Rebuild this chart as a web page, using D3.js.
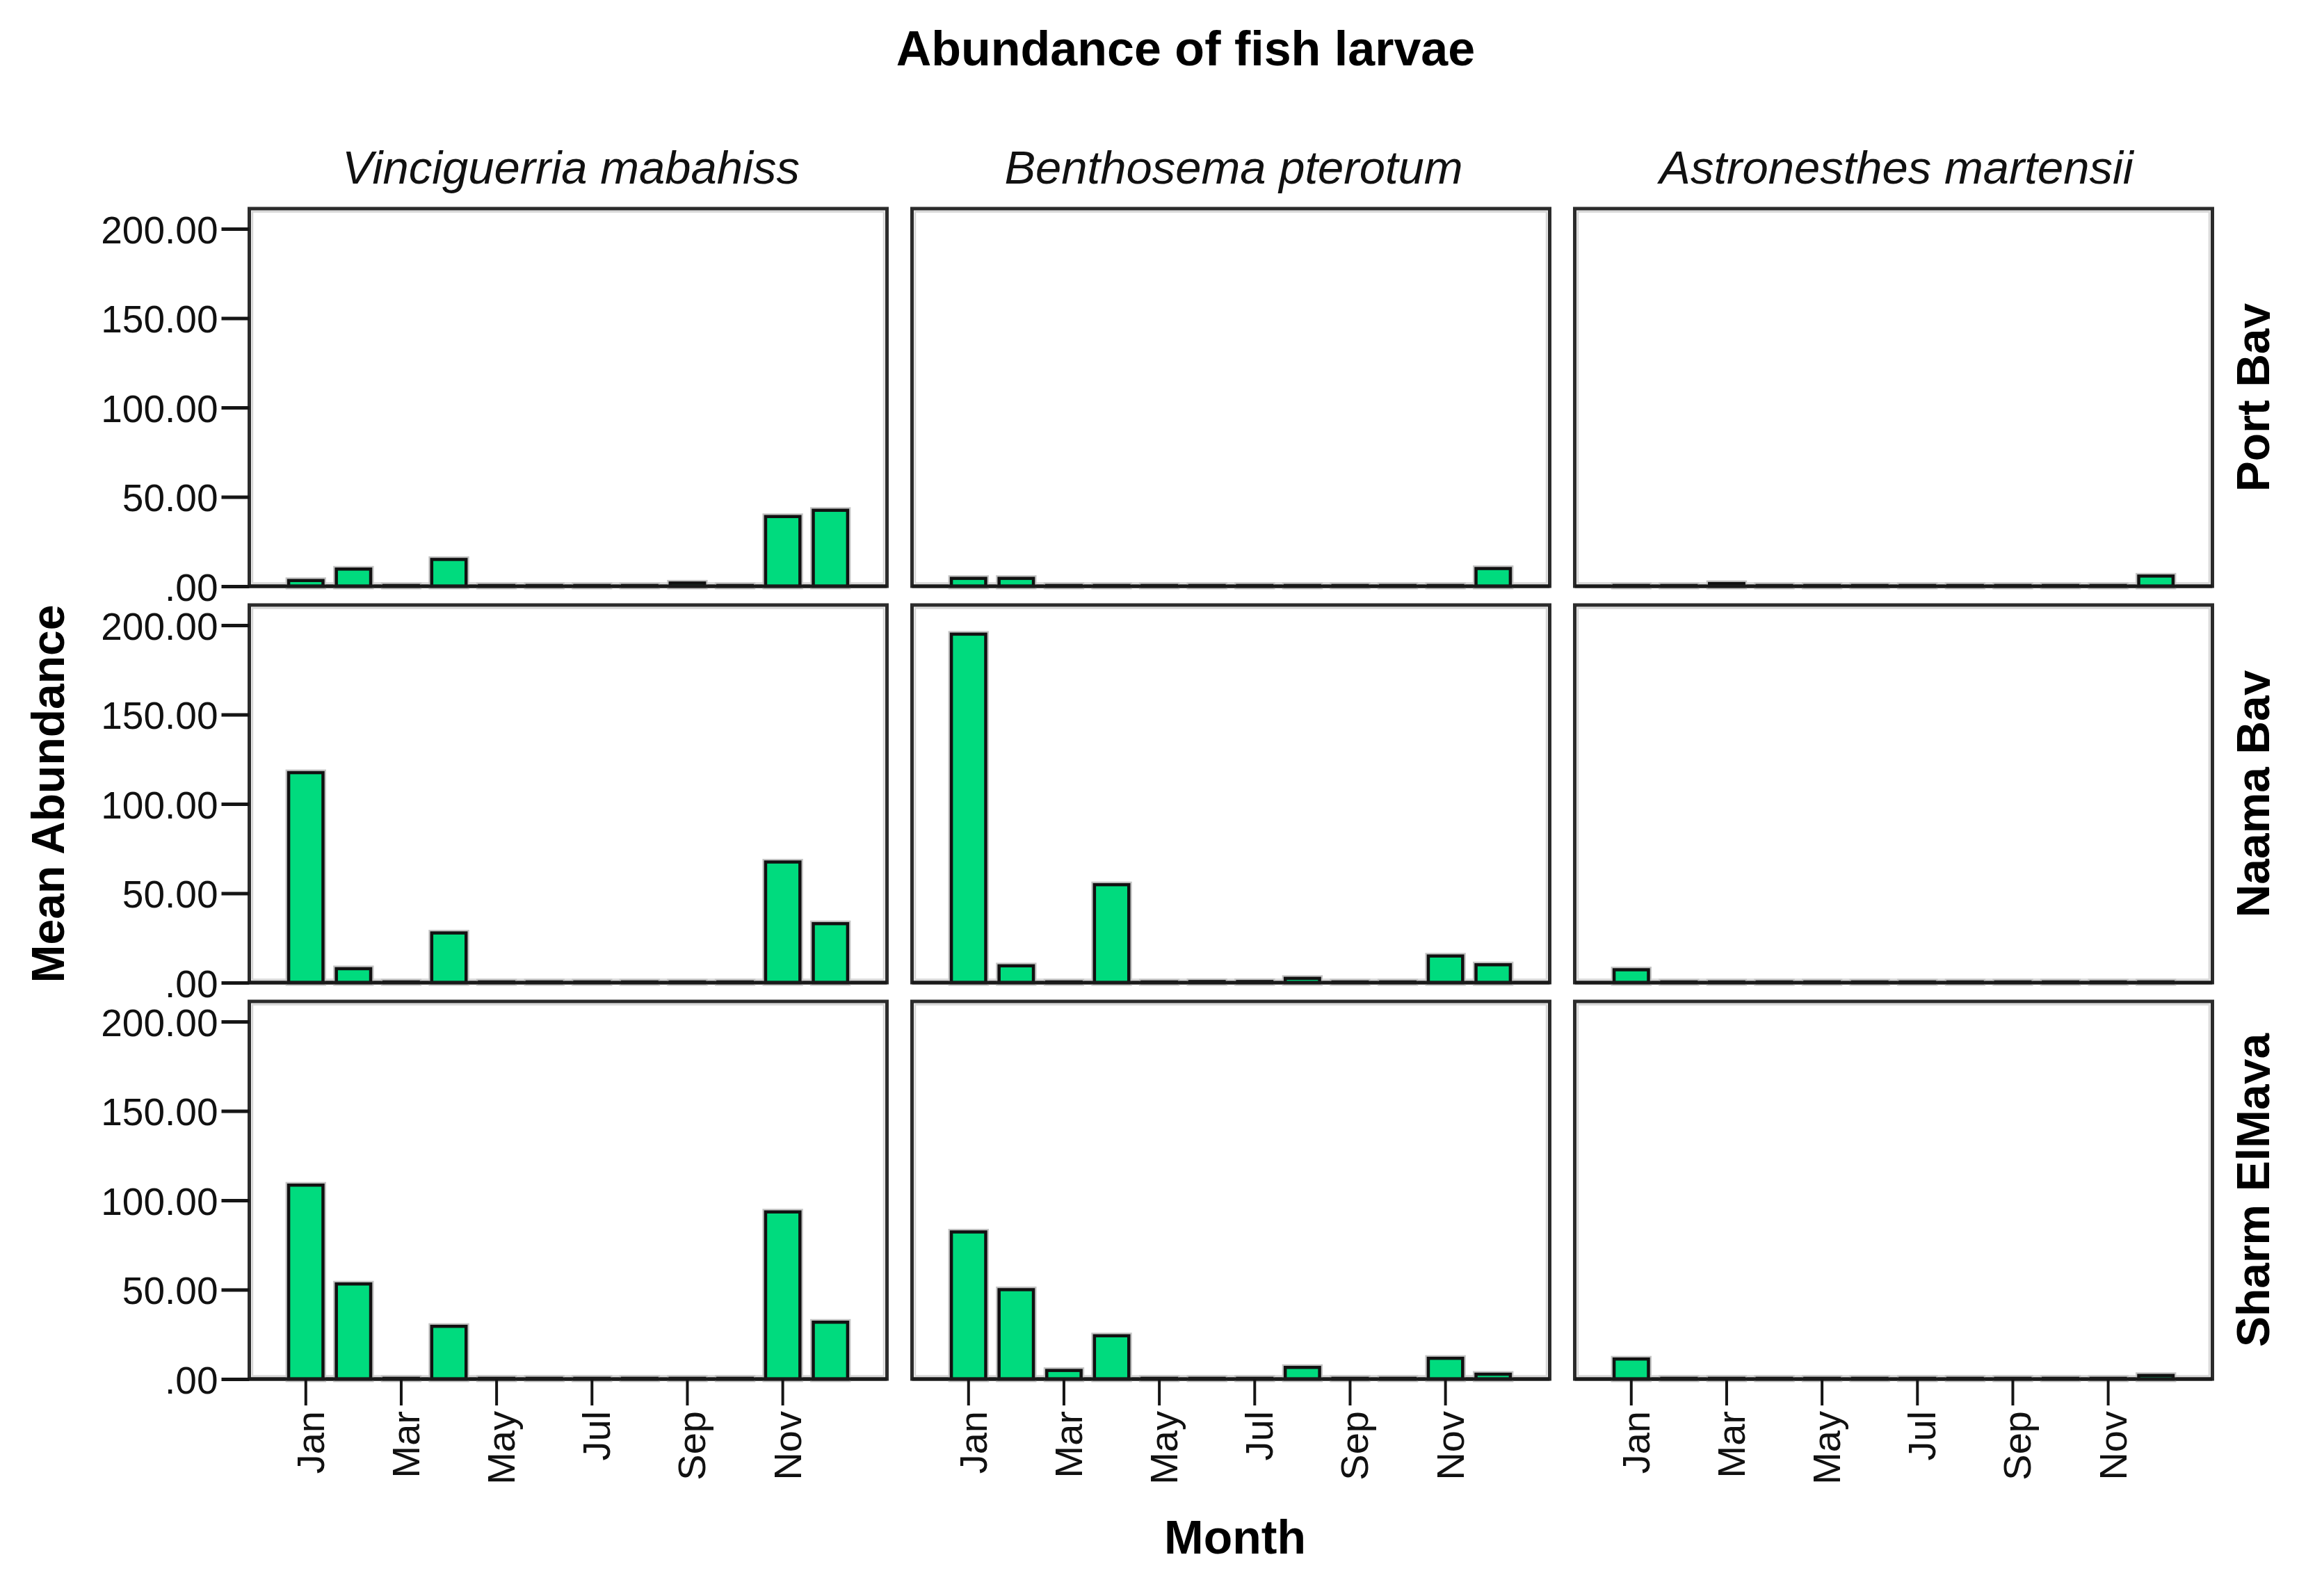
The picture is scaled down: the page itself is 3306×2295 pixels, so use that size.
<!DOCTYPE html>
<html>
<head>
<meta charset="utf-8">
<script src="https://cdn.jsdelivr.net/npm/d3@7"></script>
<style>
  html, body { margin: 0; padding: 0; background: #fff; }
  svg { display: block; }
  text { font-family: "Liberation Sans", Arial, sans-serif; }
</style>
</head>
<body>
<svg id="chart" width="3306" height="2295"></svg>
<script>
// ---------------- data ----------------
const months = ["Jan","Feb","Mar","Apr","May","Jun","Jul","Aug","Sep","Oct","Nov","Dec"];
const monthTickLabels = ["Jan","Mar","May","Jul","Sep","Nov"];
const species = ["Vinciguerria mabahiss","Benthosema pterotum","Astronesthes martensii"];
const sites = ["Port Bay","Naama Bay","Sharm ElMaya"];
const yTicks = [0, 50, 100, 150, 200];
const yTickLabels = [".00", "50.00", "100.00", "150.00", "200.00"];

// Mean abundance per month (Jan..Dec)
const vinciguerriaPortBay   = [3.2, 9.6, 0, 15.0, 0, 0, 0, 0, 1.8, 0, 39.0, 42.5];
const vinciguerriaNaamaBay  = [117.5, 7.8, 0, 27.8, 0, 0, 0, 0, 0, 0, 67.5, 33.0];
const vinciguerriaSharm     = [108.5, 53.2, 0, 29.5, 0, 0, 0, 0, 0, 0, 93.5, 31.8];
const benthosemaPortBay     = [4.4, 4.4, 0, 0, 0, 0, 0, 0, 0, 0, 0, 9.9];
const benthosemaNaamaBay    = [195.0, 9.4, 0, 54.8, 0, 0.6, 0.6, 2.4, 0, 0, 14.9, 10.0];
const benthosemaSharm       = [82.3, 50.0, 4.8, 24.2, 0, 0, 0, 6.5, 0, 0, 11.6, 2.7];
const astronesthesPortBay   = [0.4, 0, 1.5, 0, 0, 0, 0, 0, 0, 0, 0, 5.7];
const astronesthesNaamaBay  = [7.2, 0, 0, 0, 0, 0, 0, 0, 0, 0, 0, 0.4];
const astronesthesSharm     = [11.2, 0, 0, 0, 0, 0, 0, 0, 0, 0, 0, 2.0];

const panelData = {
  "Vinciguerria mabahiss":  {"Port Bay": vinciguerriaPortBay, "Naama Bay": vinciguerriaNaamaBay, "Sharm ElMaya": vinciguerriaSharm},
  "Benthosema pterotum":    {"Port Bay": benthosemaPortBay,   "Naama Bay": benthosemaNaamaBay,   "Sharm ElMaya": benthosemaSharm},
  "Astronesthes martensii": {"Port Bay": astronesthesPortBay, "Naama Bay": astronesthesNaamaBay, "Sharm ElMaya": astronesthesSharm}
};

// ---------------- layout ----------------
const svg = d3.select("#chart");
const GREEN = "#00DB7E";

const colScale = d3.scaleBand().domain(species).range([358.5, 3181.5]).paddingInner(0.0378);
const rowScale = d3.scaleBand().domain(sites).range([300, 1983]).paddingInner(0.0474);
const pw = colScale.bandwidth();
const ph = rowScale.bandwidth();

const y = d3.scaleLinear().domain([0, 211.3]).range([ph, 0]);
const x = d3.scaleBand().domain(months).range([0, pw]).paddingInner(0.28).paddingOuter(0.825);

// clip for row labels (descenders cut as in the source)
const defs = svg.append("defs");
defs.append("clipPath").attr("id", "rowclip")
  .append("rect").attr("x", 3180).attr("y", 0).attr("width", 84).attr("height", 2295);

// Title
svg.append("text")
  .attr("x", 1705).attr("y", 94)
  .attr("text-anchor", "middle")
  .attr("font-size", 70).attr("font-weight", "bold")
  .attr("fill", "#000")
  .text("Abundance of fish larvae");

// Column headers
svg.selectAll("text.colhead").data(species).join("text")
  .attr("class", "colhead")
  .attr("x", d => colScale(d) + pw / 2 + 4)
  .attr("y", 264)
  .attr("text-anchor", "middle")
  .attr("font-size", 67).attr("font-style", "italic")
  .attr("fill", "#111")
  .text(d => d);

// Row labels
svg.append("g").attr("clip-path", "url(#rowclip)")
  .selectAll("text").data(sites).join("text")
  .attr("transform", d => `translate(3263,${rowScale(d) + ph / 2}) rotate(-90)`)
  .attr("text-anchor", "middle")
  .attr("font-size", 66).attr("font-weight", "bold")
  .attr("fill", "#000")
  .text(d => d);

// Y axis title
svg.append("text")
  .attr("transform", `translate(92,${(rowScale.range()[0] + rowScale.range()[1]) / 2}) rotate(-90)`)
  .attr("text-anchor", "middle")
  .attr("font-size", 66).attr("font-weight", "bold")
  .attr("fill", "#000")
  .text("Mean Abundance");

// X axis title
svg.append("text")
  .attr("x", 1776).attr("y", 2234)
  .attr("text-anchor", "middle")
  .attr("font-size", 68).attr("font-weight", "bold")
  .attr("fill", "#000")
  .text("Month");

// Panels
species.forEach((sp, ci) => {
  sites.forEach((site, ri) => {
    const vals = panelData[sp][site];
    const g = svg.append("g")
      .attr("transform", `translate(${colScale(sp)},${rowScale(site)})`);

    // frame
    g.append("rect")
      .attr("x", 0).attr("y", 0).attr("width", pw).attr("height", ph)
      .attr("fill", "#fff")
      .attr("stroke", "#2b2b2b").attr("stroke-width", 5);
    g.append("rect")
      .attr("x", 4.5).attr("y", 4.5).attr("width", pw - 9).attr("height", ph - 9)
      .attr("fill", "none")
      .attr("stroke", "#d6d6d6").attr("stroke-width", 2.5);

    const barData = months.map((m, i) => ({ m, v: vals[i] }));

    // bar halo (soft grey)
    g.selectAll("rect.halo").data(barData).join("rect")
      .attr("class", "halo")
      .attr("x", d => x(d.m))
      .attr("width", x.bandwidth())
      .attr("y", d => y(0) - Math.max(y(0) - y(d.v), 1))
      .attr("height", d => Math.max(y(0) - y(d.v), 1))
      .attr("fill", "none")
      .attr("stroke", "#c4c4c4").attr("stroke-width", 9);

    // bars
    g.selectAll("rect.bar").data(barData).join("rect")
      .attr("class", "bar")
      .attr("x", d => x(d.m))
      .attr("width", x.bandwidth())
      .attr("y", d => y(0) - Math.max(y(0) - y(d.v), 1))
      .attr("height", d => Math.max(y(0) - y(d.v), 1))
      .attr("fill", GREEN)
      .attr("stroke", "#111").attr("stroke-width", 4.5);

    // baseline
    g.append("line")
      .attr("x1", 0).attr("x2", pw)
      .attr("y1", y(0)).attr("y2", y(0))
      .attr("stroke", "#1a1a1a").attr("stroke-width", 5);

    // y axis on left column
    if (ci === 0) {
      const yAxis = d3.axisLeft(y).tickValues(yTicks)
        .tickSize(40)
        .tickFormat((d, i) => yTickLabels[i]);
      const ya = g.append("g").call(yAxis);
      ya.select(".domain").remove();
      ya.selectAll(".tick line").attr("stroke", "#151515").attr("stroke-width", 5);
      ya.selectAll(".tick text")
        .attr("x", -45)
        .attr("dy", "0.35em")
        .attr("transform", "translate(0,1)")
        .attr("font-size", 55)
        .attr("font-family", "'Liberation Sans', Arial, sans-serif")
        .attr("fill", "#111");
    }

    // x axis on bottom row
    if (ri === sites.length - 1) {
      const xAxis = d3.axisBottom(x).tickValues(monthTickLabels).tickSize(38).tickPadding(0);
      const xa = g.append("g").attr("transform", `translate(0,${ph})`).call(xAxis);
      xa.select(".domain").remove();
      xa.selectAll(".tick line").attr("stroke", "#151515").attr("stroke-width", 4);
      xa.selectAll(".tick text")
        .attr("transform", "translate(26,46) rotate(-90)")
        .attr("x", 0).attr("y", 0).attr("dy", 0)
        .attr("text-anchor", "end")
        .attr("font-size", 56)
        .attr("font-family", "'Liberation Sans', Arial, sans-serif")
        .attr("fill", "#111");
    }
  });
});
</script>
</body>
</html>
